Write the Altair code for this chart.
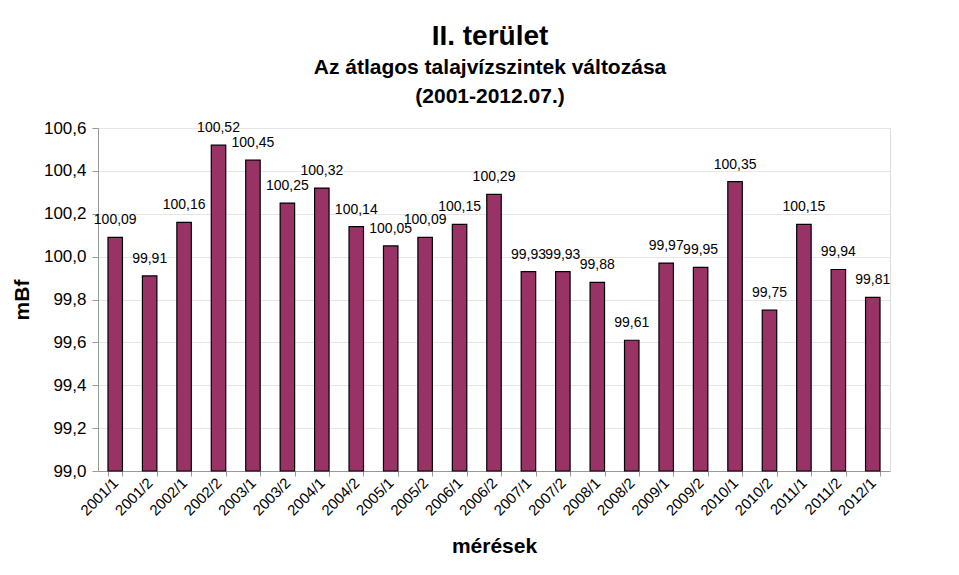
import altair as alt
import pandas as pd

periods = ["2001/1", "2001/2", "2002/1", "2002/2", "2003/1", "2003/2", "2004/1", "2004/2",
           "2005/1", "2005/2", "2006/1", "2006/2", "2007/1", "2007/2", "2008/1", "2008/2",
           "2009/1", "2009/2", "2010/1", "2010/2", "2011/1", "2011/2", "2012/1"]
levels = [100.09, 99.91, 100.16, 100.52, 100.45, 100.25, 100.32, 100.14,
          100.05, 100.09, 100.15, 100.29, 99.93, 99.93, 99.88, 99.61,
          99.97, 99.95, 100.35, 99.75, 100.15, 99.94, 99.81]

df = pd.DataFrame({"period": periods, "level": levels})
df["label"] = [f"{v:.2f}".replace(".", ",") for v in levels]

FONT = "Liberation Sans"

x = alt.X("period:N", sort=periods,
          scale=alt.Scale(paddingInner=0.58, paddingOuter=0.29),
          axis=alt.Axis(title="mérések", titleFontSize=21, titleFontWeight="bold",
                        titleFont=FONT, titleColor="black", titlePadding=17,
                        labelAngle=-45, labelFontSize=15, labelFont=FONT, labelColor="black",
                        labelAlign="right", labelBaseline="middle", labelPadding=4,
                        tickBand="extent", tickColor="#999999", tickSize=5,
                        domainColor="#999999", grid=False))
y = alt.Y("level:Q",
          scale=alt.Scale(domain=[99.0, 100.6], zero=False, nice=False),
          axis=alt.Axis(title="mBf", titleFontSize=21, titleFontWeight="bold",
                        titleFont=FONT, titleColor="black", titlePadding=11,
                        values=[99.0, 99.2, 99.4, 99.6, 99.8, 100.0, 100.2, 100.4, 100.6],
                        labelExpr="replace(format(datum.value, '.1f'), '.', ',')",
                        labelFontSize=17, labelFont=FONT, labelColor="black", labelPadding=6,
                        tickColor="#999999", tickSize=6, domainColor="#999999",
                        gridColor="#e6e6e6"))

bars = alt.Chart(df).mark_bar(color="#993366", stroke="black", strokeWidth=1.2).encode(
    x=x, y=y, y2=alt.datum(99.0))
texts = alt.Chart(df).mark_text(fontSize=14, font=FONT, color="black", dy=-17).encode(
    x=alt.X("period:N", sort=periods), y="level:Q", text="label:N")

chart = alt.layer(bars, texts).properties(
    width=792, height=343,
    autosize=alt.AutoSizeParams(type="none"),
    padding={"left": 90, "top": 120, "right": 60, "bottom": 96},
    title=alt.TitleParams(
        text="II. terület",
        subtitle=["Az átlagos talajvízszintek változása", "(2001-2012.07.)"],
        fontSize=28, font=FONT, fontWeight="bold", color="black",
        subtitleFontSize=21, subtitleFont=FONT, subtitleFontWeight="bold",
        subtitleColor="black", subtitleLineHeight=29, subtitlePadding=6,
        anchor="middle", offset=12, dx=-4),
).configure_view(stroke="#aaaaaa", strokeWidth=1).configure(background="white")

chart.save("out.html", embed_options={"renderer": "svg", "actions": False})
